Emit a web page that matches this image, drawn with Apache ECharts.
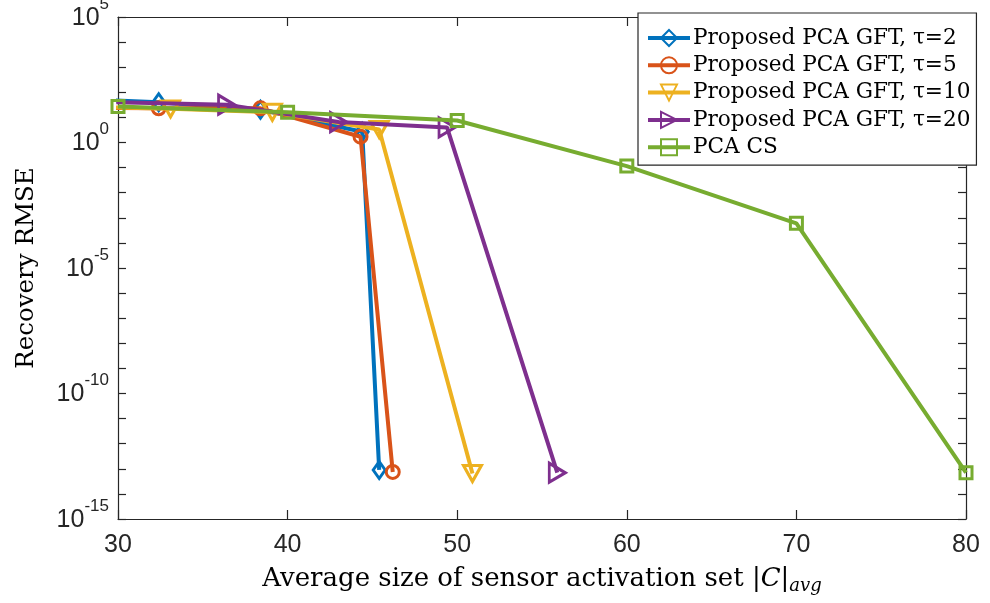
<!DOCTYPE html>
<html>
<head>
<meta charset="utf-8">
<script src="https://cdn.jsdelivr.net/npm/echarts@6/dist/echarts.min.js"></script>
<style>
  html, body { margin: 0; padding: 0; background: #fff; }
  #chart { width: 990px; height: 603px; }
</style>
</head>
<body>
<div id="chart"></div>
<script>
// Recovery RMSE versus average sensor activation set size
const seriesNames = [
  'Proposed PCA GFT, τ=2',
  'Proposed PCA GFT, τ=5',
  'Proposed PCA GFT, τ=10',
  'Proposed PCA GFT, τ=20',
  'PCA CS'
];

// first entry of each τ series lies left of the x-range and is clipped
const tau2X = [26.4, 32.4, 38.4, 44.4, 45.4];
const tau2Y = [60, 40, 20, 2.7, 9e-14];

const tau5X = [26.4, 32.4, 38.4, 44.3, 46.2];
const tau5Y = [25, 23, 23, 1.7, 7.5e-14];

const tau10X = [27.1, 33.1, 39.1, 45.4, 50.9];
const tau10Y = [28, 22, 16, 3.3, 6.5e-14];

const tau20X = [29.9, 36.4, 43.0, 49.4, 55.9];
const tau20Y = [40, 32, 6.5, 4, 7e-14];

const csX = [30, 40, 50, 60, 70, 80];
const csY = [27, 16, 7.5, 0.115, 6e-4, 7e-14];

const xTicks = [30, 40, 50, 60, 70, 80];
const yLabelExponents = [5, 0, -5, -10, -15];

const colors = ['#0072BD', '#D95319', '#EDB120', '#7E2F8E', '#77AC30'];

function pairs(xs, ys) {
  return xs.map((x, i) => [x, ys[i]]);
}

const seriesDefs = [
  { x: tau2X, y: tau2Y, symbol: 'diamond', size: [12, 17], rotate: 0 },
  { x: tau5X, y: tau5Y, symbol: 'circle', size: 13, rotate: 0 },
  { x: tau10X, y: tau10Y, symbol: 'triangle', size: [18, 16], rotate: 180 },
  { x: tau20X, y: tau20Y, symbol: 'triangle', size: [19, 16], rotate: -90 },
  { x: csX, y: csY, symbol: 'rect', size: 12, rotate: 0 }
];

const chart = echarts.init(document.getElementById('chart'), null, { renderer: 'canvas' });

const sansFont = 'Liberation Sans, Arial, sans-serif';
const serifFont = 'DejaVu Serif, serif';

function yLabel(v) {
  const e = Math.round(Math.log10(v));
  if (!yLabelExponents.includes(e)) return '';
  return '{b|10}{s|' + e + '}';
}

const axisColor = '#262626';

function logAxis(pos, withLabels) {
  const ax = {
    type: 'log',
    logBase: 10,
    min: 1e-15, max: 1e5,
    interval: 1,
    splitNumber: 20,
    position: pos,
    axisLine: { show: true, onZero: false, lineStyle: { color: axisColor, width: 1.2 } },
    axisTick: { show: true, inside: true, length: 8, lineStyle: { color: axisColor, width: 1.2 } },
    axisLabel: { show: false },
    splitLine: { show: false }
  };
  if (withLabels) {
    ax.axisLabel = {
      show: true,
      margin: 9,
      hideOverlap: false,
      showMinLabel: true,
      showMaxLabel: true,
      formatter: yLabel,
      rich: {
        b: { fontFamily: sansFont, fontSize: 25, color: axisColor, padding: [2, 0, 0, 0] },
        s: { fontFamily: sansFont, fontSize: 17, color: axisColor, padding: [0, 0, 26, 0] }
      }
    };
    ax.name = 'Recovery RMSE';
    ax.nameLocation = 'middle';
    ax.nameGap = 79;
    ax.nameTextStyle = { fontFamily: serifFont, fontSize: 24.5, color: '#000' };
  }
  return ax;
}

const option = {
  backgroundColor: '#ffffff',
  animation: false,
  grid: {
    left: 118, right: 24, top: 17, bottom: 84,
    containLabel: false,
    outerBoundsMode: 'none',
    show: false
  },
  legend: {
    show: true,
    orient: 'vertical',
    left: 638,
    top: 13,
    width: 340,
    padding: [14, 6, 7, 8],
    itemGap: 5.3,
    itemWidth: 42,
    itemHeight: 20,
    backgroundColor: '#ffffff',
    borderColor: axisColor,
    borderWidth: 1.2,
    borderRadius: 0,
    lineStyle: { width: 4 },
    textStyle: { fontFamily: serifFont, fontSize: 21.6, lineHeight: 22, color: '#000', padding: [0, 0, 0, -2] },
    data: seriesNames
  },
  xAxis: [
    {
      type: 'value',
      min: 30, max: 80, interval: 10,
      position: 'bottom',
      axisLine: { show: true, onZero: false, lineStyle: { color: axisColor, width: 1.2 } },
      axisTick: { show: true, inside: true, length: 9, lineStyle: { color: axisColor, width: 1.2 } },
      axisLabel: {
        margin: 14, fontFamily: sansFont, fontSize: 25, color: axisColor,
        formatter: v => xTicks.includes(v) ? String(v) : ''
      },
      splitLine: { show: false },
      name: '{t|Average size of sensor activation set |}{c|C}{t||}{s|avg}',
      nameLocation: 'middle',
      nameGap: 44,
      nameTextStyle: {
        rich: {
          t: { fontFamily: serifFont, fontSize: 26, color: '#000' },
          c: { fontFamily: serifFont, fontSize: 26, fontStyle: 'italic', color: '#000' },
          s: { fontFamily: serifFont, fontSize: 18, fontStyle: 'italic', color: '#000', padding: [14, 0, 0, 0] }
        }
      }
    },
    {
      type: 'value',
      min: 30, max: 80, interval: 10,
      position: 'top',
      axisLine: { show: true, onZero: false, lineStyle: { color: axisColor, width: 1.2 } },
      axisTick: { show: true, inside: true, length: 9, lineStyle: { color: axisColor, width: 1.2 } },
      axisLabel: { show: false },
      splitLine: { show: false }
    }
  ],
  yAxis: [logAxis('left', true), logAxis('right', false)],
  series: seriesDefs.map((d, i) => ({
    name: seriesNames[i],
    type: 'line',
    xAxisIndex: 0,
    yAxisIndex: 0,
    data: pairs(d.x, d.y),
    symbol: d.symbol,
    symbolSize: d.size,
    symbolRotate: d.rotate,
    showAllSymbol: true,
    clip: true,
    z: 2 + i,
    lineStyle: { color: colors[i], width: 4 },
    itemStyle: { color: 'rgba(255,255,255,0)', borderColor: colors[i], borderWidth: 3 },
    emphasis: { disabled: true }
  }))
};

chart.setOption(option);
</script>
</body>
</html>
